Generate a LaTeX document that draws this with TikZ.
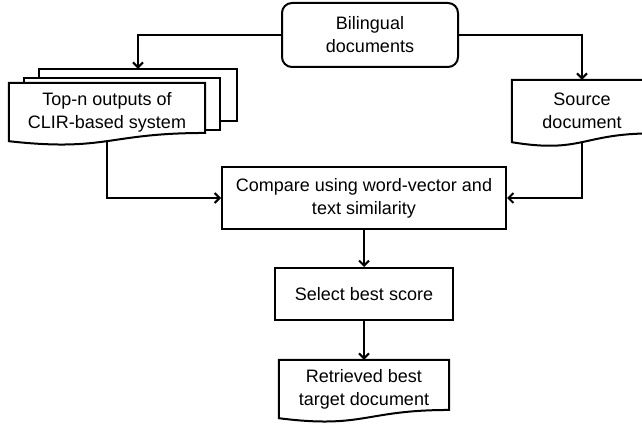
\documentclass[tikz,border=0pt]{standalone}
\usepackage{fontspec}
\setmainfont{Liberation Sans}
\usetikzlibrary{arrows.meta,calc}

% page outlines sit under the text
\pgfdeclarelayer{shapes}
\pgfsetlayers{shapes,main}

\tikzset{
  box/.style={draw, fill=white, line width=2pt, align=center, inner sep=0pt},
  docpage/.style={align=center, inner sep=0pt},
  outline/.style={draw, fill=white, line width=2pt, line join=miter},
  flowarrow/.style={draw, line width=2pt, -{Straight Barb[length=5pt,width=10pt]}},
}

% page with a wavy lower edge, fitted to a node
\newcommand{\docoutline}[1]{%
  \draw[outline] (#1.north west) -- (#1.north east)
    -- ($(#1.north east)!0.859!(#1.south east)$)
    .. controls ($(#1.north)!0.859!(#1.south)$) and ($(#1.north)!1.185!(#1.south)$)
    .. (#1.south west) -- cycle;}

\begin{document}
\begin{tikzpicture}[x=1pt, y=-1pt, font=\fontsize{18}{23}\selectfont]
    \useasboundingbox (0,0) rectangle (642,425);
    % Process boxes
    \node [box, rounded corners=10pt, minimum width=176pt, minimum height=64pt] (bil) at (370,35) {Bilingual\\documents};
    \node [box, minimum width=284pt, minimum height=62pt] (compare) at (364,198) {Compare using word-vector and\\text similarity};
    \node [box, minimum width=178pt, minimum height=52pt] (select) at (364,294) {Select best score};
    % Documents
    \node [docpage, minimum width=198pt, minimum height=52pt] (topn3) at (138,95) {};
    \node [docpage, minimum width=196pt, minimum height=52pt] (topn2) at (122,104) {};
    \node [docpage, minimum width=196pt, minimum height=58pt] (topn) at (107,112) {Top-n outputs of\\CLIR-based system};
    \node [docpage, minimum width=140pt, minimum height=62pt] (src) at (582,111) {Source\\document};
    \node [docpage, minimum width=170pt, minimum height=58pt] (ret) at (364,389) {Retrieved best\\target document};
    \begin{pgfonlayer}{shapes}
        \draw [outline] (topn3.north west) rectangle (topn3.south east);
        \draw [outline] (topn2.north west) rectangle (topn2.south east);
        \docoutline{topn}
        \docoutline{src}
        \docoutline{ret}
    \end{pgfonlayer}
    % Connectors
    \draw [flowarrow] (bil) -| (topn3);
    \draw [flowarrow] (bil) -| (src);
    \draw [flowarrow] (topn.south) |- (compare);
    \draw [flowarrow] (src.south) |- (compare);
    \draw [flowarrow] (compare) -- (select);
    \draw [flowarrow] (select) -- (ret);
\end{tikzpicture}
\end{document}
